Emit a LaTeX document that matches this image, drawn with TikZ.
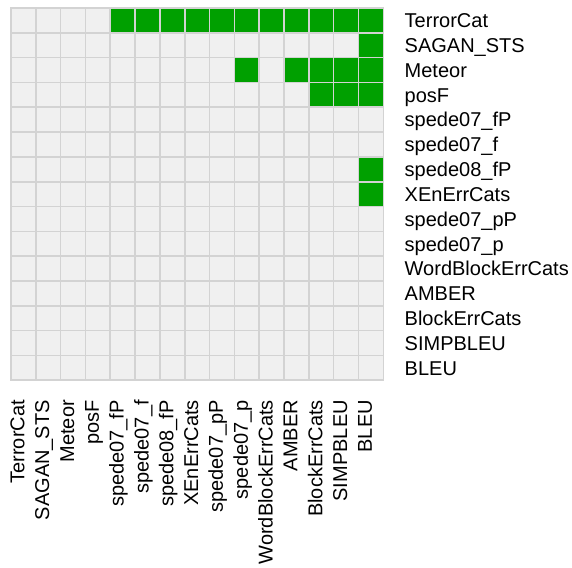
\documentclass[tikz,border=0pt]{standalone}
\usepackage{fontspec}
\setmainfont{Liberation Sans}
\definecolor{cellgray}{HTML}{F0F0F0}
\definecolor{gridgray}{HTML}{D3D3D3}
\definecolor{hit}{HTML}{00A000}
\tikzset{
  lab/.style={inner sep=0pt, font=\fontsize{20}{24}\selectfont, text=black},
  rowlab/.style={lab, anchor=base west},
  collab/.style={lab, rotate=90, anchor=base east},
  gridline/.style={draw=gridgray, line width=1.6pt}
}
\begin{document}
\begin{tikzpicture}[x=1pt,y=1pt]
\useasboundingbox (0,0) rectangle (572,567);
\def\cs{24.82}
\def\gl{11}
\def\gt{559} % 567-8
% background cells
\fill[cellgray] (\gl,\gt) rectangle ({\gl+15*\cs},{\gt-15*\cs});
% green cells: row/col
\foreach \r/\c in {0/4,0/5,0/6,0/7,0/8,0/9,0/10,0/11,0/12,0/13,0/14,
                   1/14,
                   2/9,2/11,2/12,2/13,2/14,
                   3/12,3/13,3/14,
                   6/14,7/14}{
  \fill[hit] ({\gl+\c*\cs},{\gt-\r*\cs}) rectangle ({\gl+(\c+1)*\cs},{\gt-(\r+1)*\cs});
}
% grid lines
\foreach \i in {0,...,15}{
  \draw[gridline] ({\gl+\i*\cs},{\gt+0.8}) -- ({\gl+\i*\cs},{\gt-15*\cs-0.8});
  \draw[gridline] ({\gl-0.8},{\gt-\i*\cs}) -- ({\gl+15*\cs+0.8},{\gt-\i*\cs});
}
% labels
\foreach \n [count=\i from 0] in {TerrorCat,SAGAN\_STS,Meteor,posF,spede07\_fP,spede07\_f,spede08\_fP,XEnErrCats,spede07\_pP,spede07\_p,WordBlockErrCats,AMBER,BlockErrCats,SIMPBLEU,BLEU}{
  \node[rowlab] (r\i) at (404.5,{\gt-(\i+0.5)*\cs-7.3}) {\n};
  \node[collab] (c\i) at ({\gl+(\i+0.5)*\cs+1},167) {\n};
}
\end{tikzpicture}
\end{document}
